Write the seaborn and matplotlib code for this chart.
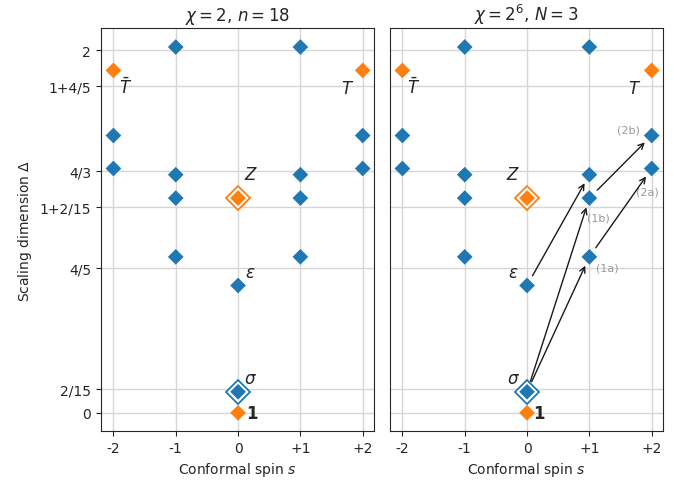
import numpy as np
import pandas as pd
import matplotlib
matplotlib.use("Agg")
import matplotlib.pyplot as plt
import seaborn as sns

# espectro estimado (espin conforme, dimension de escala) para cada panel
spin = [-2, -2, -2, -1, -1, -1, -1, 0, 0, 0, 0, 1, 1, 1, 1, 2, 2, 2]
delta_izq = [1.888, 1.529, 1.347, 2.017, 1.313, 1.184, 0.860,
             1.184, 0.702, 0.116, 0.0, 2.017, 1.313, 1.184, 0.860,
             1.888, 1.529, 1.347]
delta_der = [1.888, 1.529, 1.347, 2.017, 1.313, 1.184, 0.860,
             1.184, 0.702, 0.116, 0.0, 2.017, 1.313, 1.184, 0.860,
             1.888, 1.529, 1.347]
tipo = ['o', 'b', 'b', 'b', 'b', 'b', 'b',
        'o', 'b', 'b', 'o', 'b', 'b', 'b', 'b',
        'o', 'b', 'b']

titulos = [r"$\chi = 2$, $n = 18$", r"$\chi = 2^6$, $N = 3$"]

yticks = [0, 2/15, 4/5, 1 + 2/15, 4/3, 1 + 4/5, 2]
yticklabels = ['0', '2/15', '4/5', '1+2/15', '4/3', '1+4/5', '2']
xticks = [-2, -1, 0, 1, 2]
xticklabels = ['-2', '-1', '0', '+1', '+2']

# primarios marcados con rombo abierto (indices)
primarios = [7, 9]

# etiquetas: indice del punto, texto, desplazamiento (pt) en cada panel
etiquetas = [
    (0, r"$\bar{T}$", (9, -12), (8, -12)),
    (15, r"$T$", (-11, -13), (-12, -13)),
    (7, r"$Z$", (9, 17), (-10, 17)),
    (8, r"$\varepsilon$", (9, 10), (-10, 10)),
    (9, r"$\sigma$", (9, 10), (-10, 10)),
    (10, r"$\mathbf{1}$", (10, 0), (9, 0)),
]

# flechas del panel derecho (origen, destino)
flechas = [(9, 13), (9, 14), (8, 12), (14, 17), (13, 16)]
notas = [(14, '(1a)', (13, -8)), (13, '(1b)', (6.5, -14)),
         (17, '(2a)', (-3, -16.5)), (16, '(2b)', (-16.5, 4))]

sns.set_style("ticks")
colores = {'b': '#1f77b4', 'o': '#ff7f0e'}

fig, axes = plt.subplots(1, 2, figsize=(6.73, 4.81), dpi=100, sharey=True)
fig.subplots_adjust(left=0.150, right=0.985, top=0.939, bottom=0.102, wspace=0.0586)

for k, (ax, delta) in enumerate(zip(axes, [delta_izq, delta_der])):
    df = pd.DataFrame({'spin': spin, 'delta': delta, 'tipo': tipo})
    ax.grid(True, color='0.84', lw=1, zorder=0)
    ax.set_axisbelow(True)
    # rombos abiertos de los primarios
    prim = df.iloc[primarios]
    for _, r in prim.iterrows():
        ax.plot(r['spin'], r['delta'], 'D', ms=12.5, mfc='white',
                mec=colores[r['tipo']], mew=1.3, zorder=3)
    sns.scatterplot(data=df, x='spin', y='delta', hue='tipo', palette=colores,
                    marker='D', s=64, linewidth=0, legend=False, ax=ax, zorder=4)
    for idx, txt, off_l, off_r in etiquetas:
        off = off_l if k == 0 else off_r
        ax.annotate(txt, (spin[idx], delta[idx]), xytext=off,
                    textcoords='offset points', ha='center', va='center',
                    fontsize=12, color='.15')
    ax.set_xlim(-2.2, 2.18)
    ax.set_ylim(-0.1, 2.12)
    ax.set_xticks(xticks)
    ax.set_xticklabels(xticklabels)
    ax.set_yticks(yticks)
    ax.set_yticklabels(yticklabels)
    ax.tick_params(labelsize=10)
    ax.set_title(titulos[k], fontsize=12)
    ax.set_xlabel("Conformal spin $s$", fontsize=10)
    for s in ax.spines.values():
        s.set_visible(True)
        s.set_color('.15')

axes[0].set_ylabel(r"Scaling dimension $\Delta$", fontsize=10)
axes[1].set_ylabel("")
axes[1].tick_params(axis='y', left=False)

ax = axes[1]
for a, b in flechas:
    ax.annotate("", xy=(spin[b], delta_der[b]), xytext=(spin[a], delta_der[a]),
                arrowprops=dict(arrowstyle='->', color='.1', lw=1,
                                shrinkA=8, shrinkB=7), zorder=5)
for idx, txt, off in notas:
    ax.annotate(txt, (spin[idx], delta_der[idx]), xytext=off,
                textcoords='offset points', ha='center', va='center',
                fontsize=8, color='0.6')

fig.savefig("out.png", dpi=100)
